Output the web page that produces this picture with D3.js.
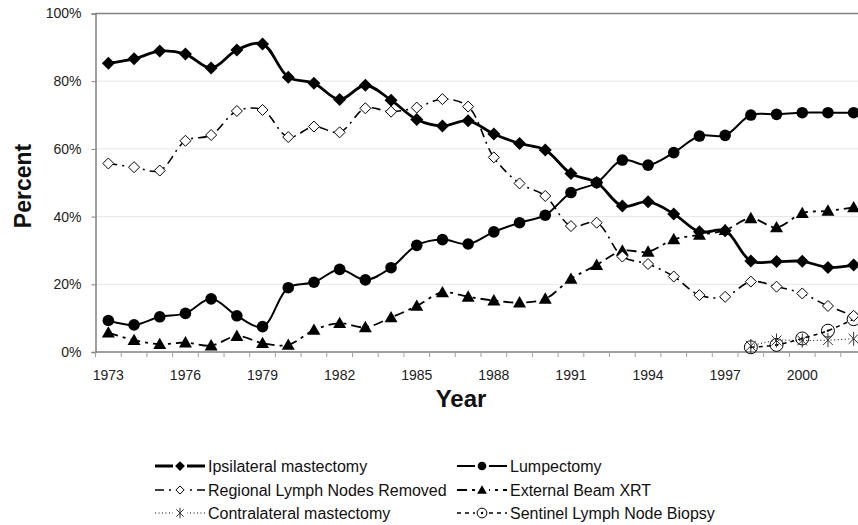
<!DOCTYPE html>
<html>
<head>
<meta charset="utf-8">
<script src="https://cdn.jsdelivr.net/npm/d3@7.9.0/dist/d3.min.js"></script>
<style>
  body { margin: 0; background: #fff; }
  svg { font-family: Arial, "Liberation Sans", sans-serif; }
</style>
</head>
<body>
<svg width="858" height="525"></svg>
<script>
// data (percent)
const years = d3.range(1973, 2003);
const yTicks = [0, 20, 40, 60, 80, 100];
const xTickYears = [1973, 1976, 1979, 1982, 1985, 1988, 1991, 1994, 1997, 2000];

const ipsilateral = [85.3, 86.6, 88.9, 88.0, 83.9, 89.2, 91.0, 81.2, 79.4, 74.6,
  78.8, 74.4, 68.7, 66.8, 68.3, 64.4, 61.6, 59.7, 52.7, 50.1,
  43.1, 44.4, 40.8, 35.5, 35.8, 26.9, 26.7, 26.8, 25.0, 25.7];
const lumpectomy = [9.3, 8.0, 10.4, 11.4, 15.7, 10.7, 7.5, 19.0, 20.6, 24.4,
  21.3, 24.9, 31.5, 33.2, 31.9, 35.5, 38.2, 40.4, 47.1, 50.0,
  56.7, 55.2, 58.9, 63.8, 64.0, 70.0, 70.2, 70.7, 70.7, 70.7];
const regionalNodes = [55.7, 54.6, 53.6, 62.4, 64.1, 71.2, 71.5, 63.5, 66.6, 64.9,
  72.0, 71.0, 72.2, 74.7, 72.5, 57.5, 49.8, 46.1, 37.2, 38.2,
  28.2, 26.0, 22.3, 16.8, 16.3, 20.8, 19.3, 17.3, 13.6, 10.7];
const externalXrt = [5.7, 3.5, 2.3, 2.8, 1.9, 4.7, 2.6, 2.1, 6.5, 8.5,
  7.3, 10.2, 13.6, 17.6, 16.3, 15.2, 14.6, 15.7, 21.6, 25.7,
  29.9, 29.6, 33.3, 34.6, 36.0, 39.5, 36.8, 41.0, 41.7, 42.7];
const contralateral = [null, null, null, null, null, null, null, null, null, null,
  null, null, null, null, null, null, null, null, null, null,
  null, null, null, null, null, 1.8, 3.4, 3.4, 3.5, 3.9];
const sentinel = [null, null, null, null, null, null, null, null, null, null,
  null, null, null, null, null, null, null, null, null, null,
  null, null, null, null, null, 1.4, 2.1, 4.0, 6.3, 9.7];

const series = [
  { name: "Ipsilateral mastectomy", values: ipsilateral, marker: "diamondFilled", width: 2.8, dash: null },
  { name: "Lumpectomy", values: lumpectomy, marker: "circle", width: 2, dash: null },
  { name: "Regional Lymph Nodes Removed", values: regionalNodes, marker: "diamondOpen", width: 1.6, dash: "9,5,2,5" },
  { name: "External Beam XRT", values: externalXrt, marker: "triangle", width: 1.8, dash: "10,5,3,5" },
  { name: "Contralateral mastectomy", values: contralateral, marker: "asterisk", width: 1, dash: "1,2.5" },
  { name: "Sentinel Lymph Node Biopsy", values: sentinel, marker: "circleDot", width: 1.5, dash: "4,4" }
];

const svg = d3.select("svg");
const plotLeft = 95.5, plotRight = 866.5, plotTop = 13.5, plotBottom = 352;

const x = d3.scaleBand().domain(years).range([plotLeft, plotRight]).padding(0);
const y = d3.scaleLinear().domain([0, 100]).range([plotBottom, plotTop]);
const cx = d => x(d) + x.bandwidth() / 2;

// gridlines
svg.append("g").selectAll("line").data(yTicks.filter(t => t > 0 && t < 100)).join("line")
  .attr("x1", plotLeft).attr("x2", plotRight)
  .attr("y1", d => y(d)).attr("y2", d => y(d))
  .attr("stroke", "#e6e6e6").attr("stroke-width", 1);
svg.append("line").attr("x1", plotLeft).attr("x2", plotRight)
  .attr("y1", y(100)).attr("y2", y(100))
  .attr("stroke", "#808080").attr("stroke-width", 1.5);

// y axis
const yAxis = svg.append("g").attr("transform", `translate(${plotLeft},0)`)
  .call(d3.axisLeft(y).tickValues(yTicks).tickFormat(d => d + "%").tickSize(4).tickPadding(10));
yAxis.select(".domain").attr("stroke", "#808080").attr("stroke-width", 1.5);
yAxis.selectAll(".tick line").attr("stroke", "#808080");
yAxis.selectAll("text").attr("font-size", 14).attr("fill", "#222")
  .attr("font-family", "Arial, 'Liberation Sans', sans-serif");

// x axis: ticks between categories, labels every three years
const xAxis = svg.append("g").attr("transform", `translate(0,${plotBottom})`);
xAxis.append("line").attr("x1", plotLeft).attr("x2", plotRight)
  .attr("stroke", "#808080").attr("stroke-width", 1.5);
xAxis.selectAll(".xt").data(years).join("line").attr("class", "xt")
  .attr("x1", d => x(d)).attr("x2", d => x(d)).attr("y1", 0).attr("y2", 5)
  .attr("stroke", "#a0a0a0");
xAxis.selectAll("text").data(xTickYears).join("text")
  .attr("x", d => cx(d)).attr("y", 28)
  .attr("text-anchor", "middle").attr("font-size", 14).attr("fill", "#222")
  .text(d => d);

// axis titles
svg.append("text").attr("x", 461).attr("y", 407).attr("text-anchor", "middle")
  .attr("font-size", 24).attr("font-weight", "bold").attr("fill", "#111").text("Year");
svg.append("text").attr("transform", "translate(31,186) rotate(-90)").attr("text-anchor", "middle")
  .attr("font-size", 23).attr("font-weight", "bold").attr("fill", "#111").text("Percent");

// markers (k scales them down for the legend)
function drawMarker(g, type, k = 1) {
  if (type === "diamondFilled") {
    const r = 6.5 * k;
    g.append("path").attr("d", `M0,${-r}L${r},0L0,${r}L${-r},0Z`).attr("fill", "#000");
  } else if (type === "circle") {
    g.append("circle").attr("r", 5.8 * k).attr("fill", "#000");
  } else if (type === "diamondOpen") {
    const r = 5.5 * k;
    g.append("path").attr("d", `M0,${-r}L${r},0L0,${r}L${-r},0Z`).attr("fill", "#fff")
      .attr("stroke", "#000").attr("stroke-width", 1);
  } else if (type === "triangle") {
    const r = 6.5 * k;
    g.append("path").attr("d", `M0,${-r}L${r},${r * 0.75}L${-r},${r * 0.75}Z`).attr("fill", "#000");
  } else if (type === "asterisk") {
    const r = 7 * k;
    [0, 45, 135].forEach(a => {
      const dx = r * Math.sin(a * Math.PI / 180), dy = r * Math.cos(a * Math.PI / 180);
      g.append("line").attr("x1", -dx).attr("y1", -dy).attr("x2", dx).attr("y2", dy)
        .attr("stroke", "#333").attr("stroke-width", 1);
    });
  } else if (type === "circleDot") {
    g.append("circle").attr("r", 6.5 * k).attr("fill", "none").attr("stroke", "#000").attr("stroke-width", 1);
    g.append("circle").attr("r", 1.2).attr("fill", "#000");
  }
}

const plot = svg.append("g");
const line = d3.line()
  .defined(d => d.v !== null)
  .x(d => cx(d.year)).y(d => y(d.v))
  .curve(d3.curveCatmullRom.alpha(0.5));

series.slice().reverse().forEach(s => {
  const pts = years.map((yr, i) => ({ year: yr, v: s.values[i] }));
  plot.append("path").datum(pts)
    .attr("d", line)
    .attr("fill", "none").attr("stroke", "#000")
    .attr("stroke-width", s.width)
    .attr("stroke-dasharray", s.dash);
  pts.filter(d => d.v !== null).forEach(d => {
    drawMarker(plot.append("g").attr("transform", `translate(${cx(d.year)},${y(d.v)})`), s.marker);
  });
});

// legend
const legendCols = [155, 457];
const legendRows = [466, 490, 513];
series.forEach((s, i) => {
  const lx = legendCols[i % 2], ly = legendRows[Math.floor(i / 2)];
  const g = svg.append("g").attr("transform", `translate(${lx},${ly})`);
  g.append("line").attr("x1", 0).attr("x2", 50).attr("y1", 0).attr("y2", 0)
    .attr("stroke", "#000").attr("stroke-width", s.width)
    .attr("stroke-dasharray", s.dash);
  g.append("rect").attr("x", 18).attr("y", -6).attr("width", 14).attr("height", 12).attr("fill", "#fff");
  drawMarker(g.append("g").attr("transform", "translate(25,0)"), s.marker, 0.75);
  g.append("text").attr("x", 53).attr("y", 5.5).attr("font-size", 16).attr("fill", "#111").text(s.name);
});
</script>
</body>
</html>
